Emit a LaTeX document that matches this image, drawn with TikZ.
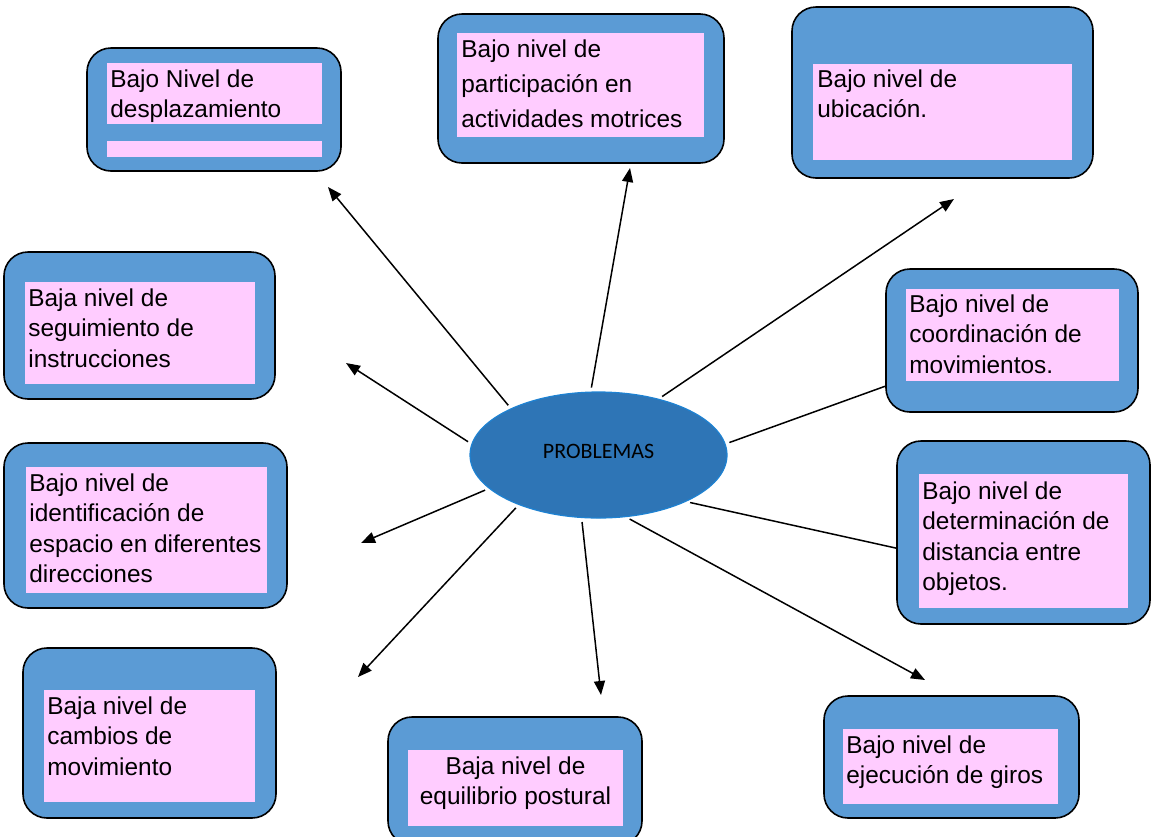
\documentclass[tikz,border=0pt]{standalone}
\usepackage{fontspec}
\setmainfont{Liberation Sans}
\newfontfamily\carlito{Carlito}
\usetikzlibrary{shapes.geometric,arrows.meta}
\definecolor{azulcaja}{RGB}{91,155,213}
\definecolor{rosa}{RGB}{255,204,255}
\definecolor{azulcentro}{RGB}{46,117,182}
\definecolor{bordecentro}{RGB}{30,130,210}
\begin{document}
\begin{tikzpicture}[x=0.5pt, y=-0.5pt,
            caja/.style={rectangle, rounded corners=12pt, fill=azulcaja, draw=black, line width=0.8pt},
            fondo/.style={rectangle, fill=rosa, inner sep=0pt},
            texto/.style={anchor=north west, inner sep=0pt, align=left, font=\fontsize{12.2}{15.3}\selectfont},
            flecha/.style={line width=0.75pt, shorten <=2pt, -{Triangle[length=7pt, width=5.5pt]}},
            linea/.style={line width=0.75pt, shorten <=2pt},
        ]
            \clip (0,0) rectangle (1154,836);
            \node(prob) at (598.5,455) [ellipse, fill=azulcentro, draw=bordecentro, line width=0.6pt, minimum width=128.5pt, minimum height=63pt, inner sep=0pt] {\carlito\fontsize{11}{13}\selectfont\raisebox{3.5pt}{PROBLEMAS}};

            \node(desp) at (214,109.5) [caja, minimum width=127pt, minimum height=61.5pt] {};
            \node[fondo, minimum width=107.5pt, minimum height=30.5pt](despa) at (214.5,93.5) {};
            \node[fondo, minimum width=107.5pt, minimum height=8pt](despb) at (214.5,149) {};
            \node[texto](despt) at (110,69) {Bajo Nivel de\\desplazamiento};

            \node(part) at (581,88.5) [caja, minimum width=143pt, minimum height=74.5pt] {};
            \node[fondo, minimum width=123.5pt, minimum height=52pt](parta) at (580.5,85) {};
            \node[texto, font=\fontsize{12.2}{17.5}\selectfont](partt) at (461,39) {Bajo nivel de\\participación en\\actividades motrices};

            \node(ubic) at (942.5,92.5) [caja, minimum width=150.5pt, minimum height=85.5pt] {};
            \node[fondo, minimum width=129.5pt, minimum height=48pt](ubica) at (942.5,112) {};
            \node[texto](ubict) at (817,69) {Bajo nivel de\\ubicación.};

            \node(segu) at (139.5,325.5) [caja, minimum width=135.5pt, minimum height=73.5pt] {};
            \node[fondo, minimum width=115pt, minimum height=51pt](segua) at (140,333) {};
            \node[texto](segut) at (28,288) {Baja nivel de\\seguimiento de\\instrucciones};

            \node(coor) at (1012,340.5) [caja, minimum width=126pt, minimum height=71.5pt] {};
            \node[fondo, minimum width=106.5pt, minimum height=46pt](coora) at (1012.5,335) {};
            \node[texto](coort) at (909,294) {Bajo nivel de\\coordinación de\\movimientos.};

            \node(iden) at (145.5,525.5) [caja, minimum width=141.5pt, minimum height=82.5pt] {};
            \node[fondo, minimum width=120.5pt, minimum height=63pt](idena) at (146.5,530) {};
            \node[texto](ident) at (29,473) {Bajo nivel de\\identificación de\\espacio en diferentes\\direcciones};

            \node(dete) at (1023.5,532.5) [caja, minimum width=126.5pt, minimum height=91.5pt] {};
            \node[fondo, minimum width=104.5pt, minimum height=67pt](detea) at (1023.5,541) {};
            \node[texto](detet) at (922,481) {Bajo nivel de\\determinación de\\distancia entre\\objetos.};

            \node(camb) at (149.5,733) [caja, minimum width=126.5pt, minimum height=85pt] {};
            \node[fondo, minimum width=105.5pt, minimum height=56pt](camba) at (149.5,746) {};
            \node[texto](cambt) at (47,696) {Baja nivel de\\cambios de\\movimiento};

            \node(equi) at (515,781) [caja, minimum width=127pt, minimum height=64pt] {};
            \node[fondo, minimum width=107.5pt, minimum height=38pt](equia) at (515.5,788) {};
            \node[texto, anchor=north, align=center](equit) at (515.5,756) {Baja nivel de\\equilibrio postural};

            \node(giro) at (951.5,757) [caja, minimum width=127.5pt, minimum height=61pt] {};
            \node[fondo, minimum width=107.5pt, minimum height=37.5pt](giroa) at (950.5,766.5) {};
            \node[texto](girot) at (846,735) {Bajo nivel de\\ejecución de giros};

            \coordinate (pdesp) at (328,187);
            \coordinate (ppart) at (630,168);
            \coordinate (pubic) at (954,199);
            \coordinate (psegu) at (346,363);
            \coordinate (piden) at (361,543);
            \coordinate (pcamb) at (358,677);
            \coordinate (pequi) at (601,695);
            \coordinate (pgiro) at (925,680);

            \draw[flecha] (prob.152) -- (pdesp);
            \draw[flecha] (prob.97.8) -- (ppart);
            \draw[flecha] (prob.43.3) -- (pubic);
            \draw[flecha] (prob.175.4) -- (psegu);
            \draw[linea] (prob.5.3) -- (coor);
            \draw[linea] (prob.332.3) -- (dete.187.4);
            \draw[flecha] (prob.197.5) -- (piden);
            \draw[flecha] (prob.212) -- (pcamb);
            \draw[flecha] (prob.255.8) -- (pequi);
            \draw[flecha] (prob.294.5) -- (pgiro);
        \end{tikzpicture}
\end{document}
